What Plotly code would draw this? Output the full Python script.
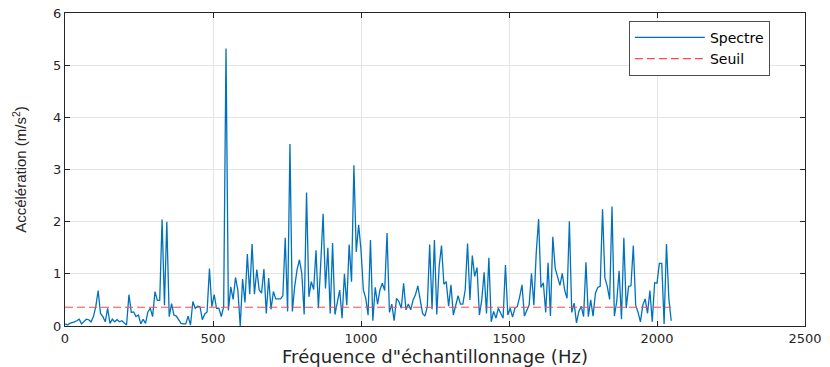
import plotly.graph_objects as go

# Frequency step (Hz) and spectrum amplitudes (m/s^2)
freq_step = 8
spectre = [
    0.04, 0.02, 0.05, 0.06, 0.08, 0.10, 0.13, 0.04, 0.08, 0.13,
    0.12, 0.08, 0.18, 0.37, 0.68, 0.24, 0.18, 0.08, 0.34, 0.05,
    0.13, 0.08, 0.12, 0.08, 0.10, 0.06, 0.02, 0.60, 0.26, 0.27,
    0.18, 0.21, 0.04, 0.13, 0.05, 0.27, 0.34, 0.18, 0.66, 0.49,
    0.49, 2.04, 0.40, 2.00, 0.18, 0.43, 0.21, 0.19, 0.13, 0.05,
    0.04, 0.04, 0.19, 0.02, 0.47, 0.34, 0.38, 0.37, 0.12, 0.23,
    0.27, 1.10, 0.37, 0.60, 0.34, 0.34, 0.18, 0.37, 5.32, 0.30,
    0.75, 0.51, 0.93, 0.69, 0.00, 0.90, 0.45, 1.38, 0.61, 1.57,
    0.61, 1.08, 0.69, 0.63, 1.09, 0.24, 0.92, 0.32, 0.66, 0.52,
    0.52, 0.52, 0.58, 1.69, 0.28, 3.49, 0.28, 0.76, 1.08, 1.27,
    1.01, 0.22, 2.56, 0.56, 0.85, 0.70, 1.45, 0.34, 1.20, 2.15,
    0.72, 1.50, 0.24, 1.59, 0.22, 0.44, 0.69, 0.15, 1.00, 0.40,
    1.56, 0.85, 3.08, 1.42, 1.94, 1.46, 0.69, 0.53, 0.21, 1.65,
    0.10, 0.74, 0.42, 0.69, 0.82, 0.68, 1.78, 0.26, 0.42, 0.10,
    0.53, 0.47, 0.34, 0.82, 0.31, 0.42, 0.31, 0.50, 0.60, 0.77,
    0.47, 0.24, 0.19, 0.37, 1.56, 0.32, 1.65, 0.22, 1.14, 1.54,
    0.80, 0.85, 0.38, 0.79, 0.21, 0.37, 0.58, 0.42, 0.42, 0.69,
    1.58, 0.50, 1.35, 0.95, 1.12, 0.21, 0.50, 1.03, 0.24, 1.31,
    0.08, 0.28, 0.15, 0.34, 0.24, 0.15, 1.17, 0.21, 0.34, 0.17,
    0.34, 0.37, 0.56, 0.79, 0.19, 0.28, 0.40, 1.01, 0.40, 1.40,
    2.05, 0.74, 0.83, 0.26, 1.21, 0.19, 1.71, 1.11, 0.92, 0.78,
    1.01, 0.69, 0.53, 2.01, 0.26, 0.44, 0.06, 0.28, 0.38, 0.18,
    1.22, 0.18, 0.50, 0.19, 0.63, 0.74, 0.76, 2.24, 0.92, 0.76,
    0.51, 2.29, 0.19, 0.47, 1.06, 0.13, 1.69, 0.34, 0.76, 0.77,
    1.54, 0.40, 0.26, 0.08, 0.40, 0.52, 0.24, 0.68, 0.08, 0.83,
    0.82, 1.20, 1.20, 0.04, 1.57, 0.53, 0.10,
]
frequences = [i * freq_step for i in range(len(spectre))]
seuil_value = 0.36
seuil = [seuil_value, seuil_value]
seuil_x = [frequences[0], frequences[-1]]

x_ticks = [0, 500, 1000, 1500, 2000, 2500]
y_ticks = [0, 1, 2, 3, 4, 5, 6]

axis_col = "#262626"
grid_col = "#e5e5e5"

fig = go.Figure()
fig.add_trace(go.Scatter(
    x=frequences, y=spectre, mode="lines", name="Spectre",
    line=dict(color="#0072BD", width=1.3),
))
fig.add_trace(go.Scatter(
    x=seuil_x, y=seuil, mode="lines", name="Seuil",
    line=dict(color="#FF4A4A", width=1.1, dash="8px,4px"),
))

common = dict(
    showline=True, linecolor=axis_col, linewidth=1.3, mirror="ticks",
    ticks="inside", ticklen=5, tickcolor=axis_col, tickwidth=1.3,
    showgrid=True, gridcolor=grid_col, gridwidth=1, zeroline=False,
    automargin=False,
    tickfont=dict(family="DejaVu Sans, Arial, sans-serif", size=13, color=axis_col),
)

fig.update_xaxes(
    range=[0, 2500], tickvals=x_ticks, ticktext=[str(v) for v in x_ticks],
    title=dict(text="Fréquence d\"échantillonnage (Hz)", standoff=3,
               font=dict(family="DejaVu Sans, Arial, sans-serif", size=18, color=axis_col)),
    **common,
)
fig.update_yaxes(
    range=[0, 6], tickvals=y_ticks, ticktext=[str(v) for v in y_ticks],
    title=dict(text="Accélération (m/s<sup>2</sup>)", standoff=22,
               font=dict(family="Liberation Sans Narrow, Liberation Sans, Arial, sans-serif", size=15, color=axis_col)),
    **common,
)

fig.update_layout(
    width=830, height=367,
    margin=dict(l=65, r=25, t=13, b=41),
    paper_bgcolor="white", plot_bgcolor="white",
    showlegend=True,
    legend=dict(
        x=0.762, y=0.975, xanchor="left", yanchor="top",
        bgcolor="white", bordercolor="#4d4d4d", borderwidth=1,
        font=dict(family="DejaVu Sans, Arial, sans-serif", size=14, color="black"),
        itemwidth=70, tracegroupgap=0,
        entrywidth=158, entrywidthmode="pixels",
    ),
)

fig.write_html("out.html")
